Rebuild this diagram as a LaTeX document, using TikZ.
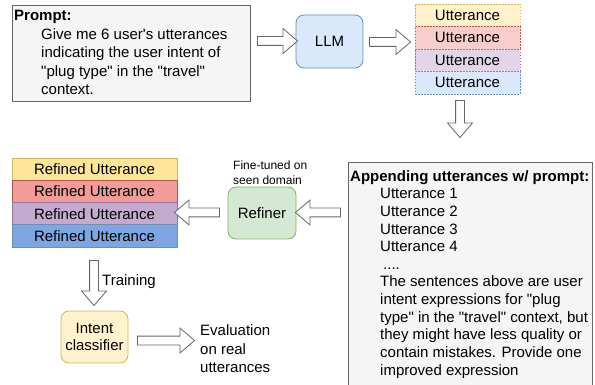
\documentclass[tikz,border=0pt]{standalone}
\usepackage{fontspec}
\setmainfont{Liberation Sans}
\usetikzlibrary{shapes.arrows,calc}
\newcommand\mydq{\textquotedbl}
\newcommand\mysq{\textquotesingle}
\definecolor{boxgray}{HTML}{F5F5F5}
\definecolor{linegray}{HTML}{666666}
\definecolor{blueF}{HTML}{DAE8FC}\definecolor{blueD}{HTML}{6C8EBF}
\definecolor{greenF}{HTML}{D5E8D4}\definecolor{greenD}{HTML}{82B366}
\definecolor{yelF}{HTML}{FFF2CC}\definecolor{yelD}{HTML}{D6B656}
\definecolor{redF}{HTML}{F8CECC}\definecolor{redD}{HTML}{B85450}
\definecolor{purF}{HTML}{E1D5E7}\definecolor{purD}{HTML}{9673A6}
\definecolor{ryel}{HTML}{FFE599}
\definecolor{rred}{HTML}{F19C99}
\definecolor{rpur}{HTML}{C3ABD0}
\definecolor{rblue}{HTML}{7EA6E0}
\tikzset{
  base/.style={font=\fontsize{15}{17.65}\selectfont},
  graybox/.style={draw=linegray, fill=boxgray, line width=0.8pt, inner sep=0pt},
  roundbox/.style={base, rounded corners=8pt, line width=0.8pt, minimum width=67pt, minimum height=53pt, inner sep=0pt, align=center},
  urow/.style={base, line width=0.6pt, dash pattern=on 1.5pt off 1.5pt, minimum width=105pt, minimum height=22.5pt, inner sep=0pt},
  rrow/.style={base, line width=0.8pt, minimum width=165pt, minimum height=22.3pt, inner sep=0pt},
  barrow/.style={single arrow, draw=linegray, fill=white, line width=0.8pt, inner xsep=0pt, inner ysep=4pt, single arrow head extend=8pt, single arrow tip angle=81},
  txt/.style={base, inner sep=0pt, align=left, anchor=north west}
}
\begin{document}
\begin{tikzpicture}[x=1pt,y=-1pt]
\useasboundingbox (0,0) rectangle (595,385);
\clip (0,0) rectangle (595,385);
% Prompt box
\node[graybox, minimum width=238pt, minimum height=96pt] (prompt) at (131,53) {};
\node[txt, font=\fontsize{15}{18.5}\selectfont\bfseries] (ptitle) at (14,9.6) {Prompt:};
\node[txt, font=\fontsize{15}{18.5}\selectfont] (pbody) at (41,28) {Give me 6 user\mysq s utterances\\indicating the user intent of\\\mydq plug type\mydq{} in the \mydq travel\mydq\\context.};
% LLM
\node[roundbox, fill=blueF, draw=blueD] (llm) at (329.5,41.5) {LLM};
% Utterances stack
\node[urow, fill=yelF, draw=yelD] (u1) at (467.5,15.25) {Utterance};
\node[urow, fill=redF, draw=redD] (u2) at (467.5,37.75) {Utterance};
\node[urow, fill=purF, draw=purD] (u3) at (467.5,60.25) {Utterance};
\node[urow, fill=blueF, draw=blueD] (u4) at (467.5,82.75) {Utterance};
% Appending box
\node[graybox, minimum width=244pt, minimum height=240pt] (append) at (470,282) {};
\node[txt, font=\fontsize{15}{17.65}\selectfont\bfseries] (atitle) at (350,170.6) {Appending utterances w/ prompt:};
\node[txt] (abody) at (380,188.2) {Utterance 1\\Utterance 2\\Utterance 3\\Utterance 4\\\hspace*{3pt}....\\The sentences above are user\\intent expressions for \mydq plug\\type\mydq{} in the \mydq travel\mydq{} context, but\\they might have less quality or\\contain mistakes. Provide one\\improved expression};
% Refiner
\node[roundbox, fill=greenF, draw=greenD, minimum width=68pt, minimum height=52pt] (refiner) at (262,213) {Refiner};
\node[txt, font=\fontsize{12}{15}\selectfont] (ft) at (233,160.6) {Fine-tuned on\\seen domain};
% Refined stack
\node[rrow, fill=ryel, draw=yelD] (r1) at (94.5,169.1) {Refined Utterance};
\node[rrow, fill=rred, draw=redD] (r2) at (94.5,191.4) {Refined Utterance};
\node[rrow, fill=rpur, draw=purD] (r3) at (94.5,213.7) {Refined Utterance};
\node[rrow, fill=rblue, draw=blueD] (r4) at (94.5,236.0) {Refined Utterance};
% Intent classifier
\node[roundbox, fill=yelF, draw=yelD, minimum height=52pt] (clf) at (94.5,337) {Intent\\classifier};
\node[txt] (train) at (102,274.6) {Training};
\node[txt, font=\fontsize{15}{18.5}\selectfont] (eval) at (200,324.6) {Evaluation\\on real\\utterances};
% Block arrows
\node[barrow, minimum height=40pt] (a1) at (275,41) {};
\node[barrow, minimum height=41pt] (a2) at (387.5,42) {};
\node[barrow, minimum height=37pt, rotate=-90] (a3) at (460,116.5) {};
\node[barrow, minimum height=45pt, rotate=180] (a4) at (320.5,212.5) {};
\node[barrow, minimum height=45pt, rotate=180] (a5) at (199.5,212.5) {};
\node[barrow, minimum height=45pt, rotate=-90] (a6) at (94,280.5) {};
\node[barrow, minimum height=57pt] (a7) at (163.5,340.5) {};
\end{tikzpicture}
\end{document}
